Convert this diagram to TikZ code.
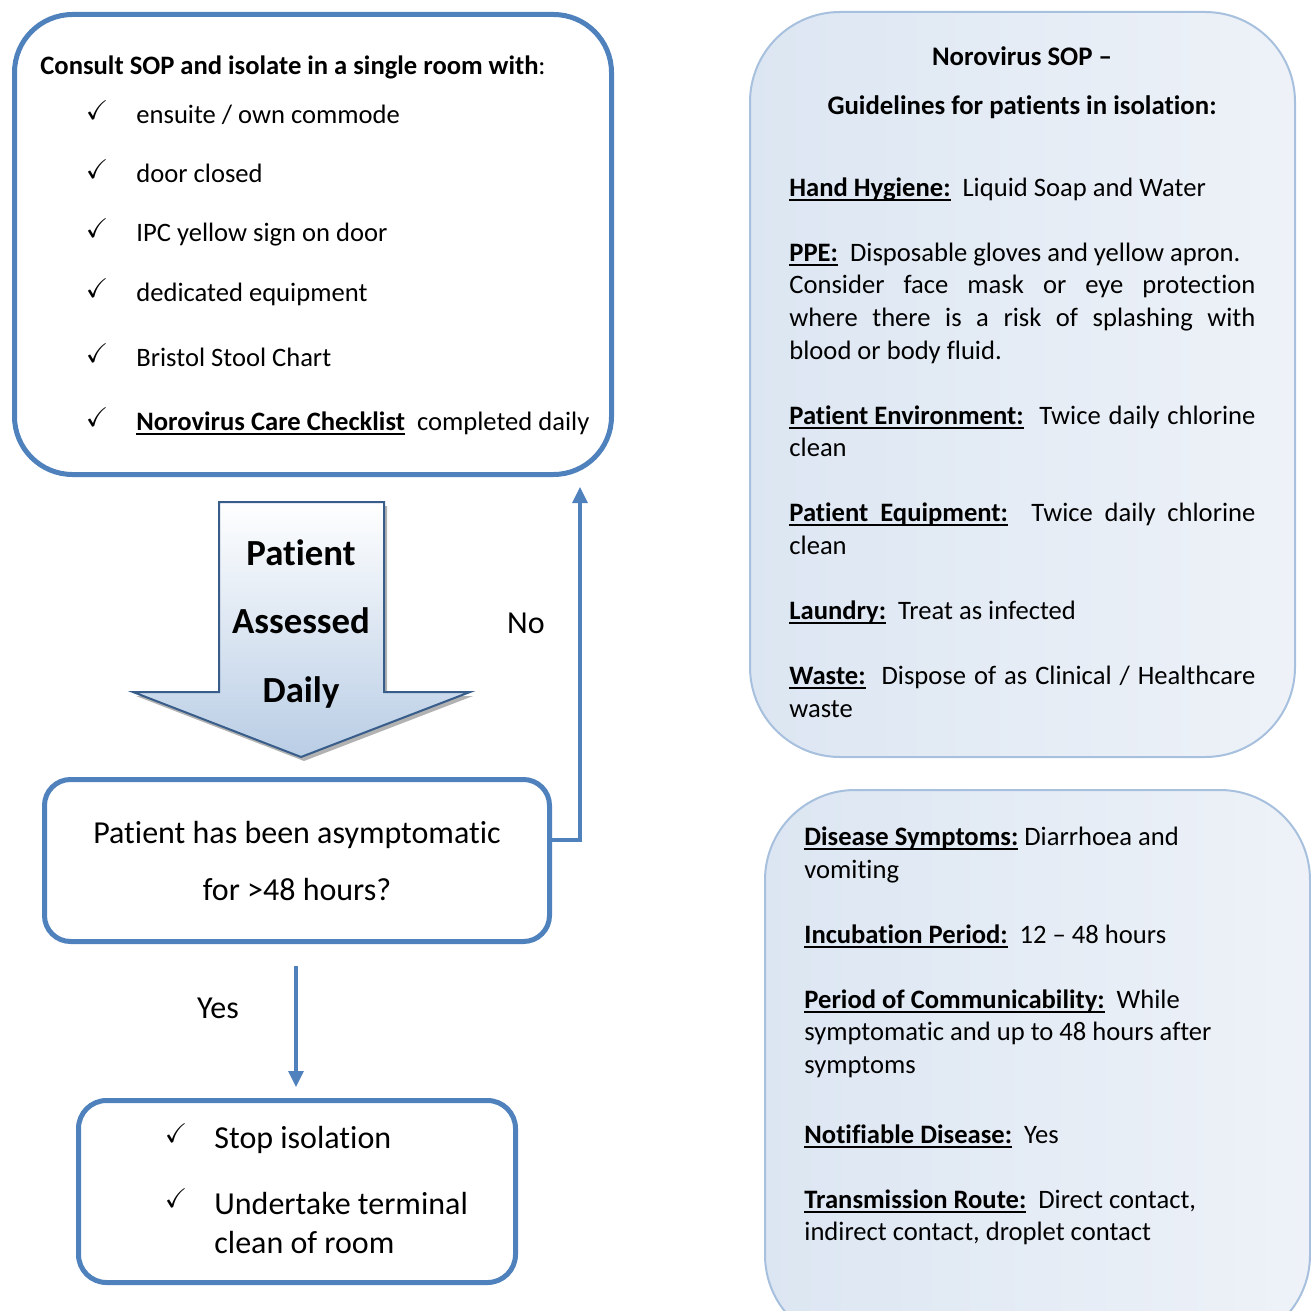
\documentclass[tikz,border=0pt]{standalone}
\usepackage{fontspec}
\setmainfont{Carlito}[Ligatures=NoCommon]
\usepackage{amssymb}
\usetikzlibrary{arrows.meta,fit}
\definecolor{bord}{RGB}{79,129,189}
\definecolor{arrowline}{RGB}{56,93,138}
\definecolor{lightbord}{RGB}{167,192,222}
\definecolor{fillL}{RGB}{220,230,242}
\definecolor{fillR}{RGB}{238,242,248}
\definecolor{arrowbot}{RGB}{185,205,229}
\newcommand{\ulx}[1]{{\setbox0\hbox{\textbf{#1}}\rlap{\rule[-2pt]{\wd0}{0.8pt}}\box0}}
\newcommand{\jl}[1]{\makebox[233pt][s]{#1}}
\tikzset{
  txt/.style={anchor=mid west, inner sep=0pt, yshift=-2pt, font=\fontsize{13.3}{16}\selectfont},
  ctxt/.style={anchor=mid, inner sep=0pt, yshift=-2pt, font=\fontsize{13.4}{16}\selectfont},
  chk/.style={anchor=mid, inner sep=0pt, font=\fontsize{13.5}{16}\selectfont},
  bigtxt/.style={anchor=mid, inner sep=0pt, yshift=-3pt, font=\fontsize{16}{19}\selectfont},
  fintxt/.style={anchor=mid west, inner sep=0pt, yshift=-3pt, font=\fontsize{16}{19}\selectfont},
  arrtxt/.style={anchor=mid, inner sep=0pt, yshift=-4pt, font=\bfseries\fontsize{18.4}{21}\selectfont},
  bluebox/.style={draw=bord, line width=2.5pt, fill=white, inner sep=0pt},
  infobox/.style={draw=lightbord, line width=1pt, left color=fillL, right color=fillR, inner sep=0pt, rounded corners=45pt},
  conn/.style={draw=bord, line width=1.6pt, -{Triangle[width=7.5pt,length=8pt]}},
}
\begin{document}
\begin{tikzpicture}[x=0.5pt,y=-0.5pt]
\path[use as bounding box] (0,0) rectangle (1311,1311);
\clip (0,0) rectangle (1311,1311);

% ---------- right info boxes ----------
\node[infobox, fit={(750,12) (1295,757)}] (sopbox) {};
\node[infobox, fit={(765,790) (1310,1345)}] (disbox) {};

% ---------- left flow boxes ----------
\node[bluebox, rounded corners=29pt, fit={(14.5,14.5) (611.5,474.5)}] (isolate) {};
\node[bluebox, rounded corners=13pt, fit={(44.5,779.5) (549.5,941.5)}] (decision) {};
\node[bluebox, rounded corners=14pt, fit={(78.5,1100.5) (515.5,1282.5)}] (stop) {};

% ---------- big block arrow ----------
\fill[gray!60, shift={(3,4)}] (219,502) -- (384,502) -- (384,692) -- (470,692) -- (301,757) -- (133,692) -- (219,692) -- cycle;
\path[draw=arrowline, line width=1pt, top color=white, bottom color=arrowbot]
  (219,502) -- (384,502) -- (384,692) -- (470,692) -- (301,757) -- (133,692) -- (219,692) -- cycle;
\node[arrtxt] (pa1) at (301,553) {Patient};
\node[arrtxt] (pa2) at (301,621) {Assessed};
\node[arrtxt] (pa3) at (301,690) {Daily};

% ---------- connectors ----------
\coordinate (nocorner) at (580,840);
\coordinate (notip) at (580,487);
\draw[conn] (decision.east |- nocorner) -- (nocorner) -- (notip);
\node[bigtxt] (nolbl) at (526,623) {No};
\coordinate (yesstart) at (296,966);
\coordinate (yestip) at (296,1087);
\draw[conn] (yesstart) -- (yestip);
\node[bigtxt] (yeslbl) at (218,1008) {Yes};

% ---------- isolate box text ----------
\node[txt] (h0) at (40,66) {\textbf{Consult SOP and isolate in a single room with}:};
\foreach \yy/\tt [count=\i] in {115/{ensuite / own commode},174/{door closed},233/{IPC yellow sign on door},293/{dedicated equipment},358/{Bristol Stool Chart},422/{\ulx{Norovirus Care Checklist}\ \ completed daily}}{
  \node[chk] (c\i) at (97,\yy) {$\checkmark$};
  \node[txt] (l\i) at (136,\yy) {\tt};
}

% ---------- decision text ----------
\node[bigtxt] (d1) at (297,833) {Patient has been asymptomatic};
\node[bigtxt] (d2) at (297,890) {for >48 hours?};

% ---------- stop box text ----------
\node[chk] (s1c) at (176,1138) {$\checkmark$};
\node[fintxt] (s1) at (214,1138) {Stop isolation};
\node[chk] (s2c) at (176,1203) {$\checkmark$};
\node[fintxt] (s2) at (214,1204) {Undertake terminal};
\node[fintxt] (s3) at (214,1243) {clean of room};

% ---------- SOP guidelines text ----------
\node[ctxt] (g1) at (1022,57) {\textbf{Norovirus SOP –}};
\node[ctxt] (g2) at (1022,106) {\textbf{Guidelines for patients in isolation:}};
\node[txt] (g3) at (789,188) {\ulx{Hand Hygiene:}\ \ Liquid Soap and Water};
\node[txt] (g4) at (789,253) {\ulx{PPE:}\ \ Disposable gloves and yellow apron.};
\node[txt] (g5) at (789,285) {\jl{Consider face mask or eye protection}};
\node[txt] (g6) at (789,318) {\jl{where there is a risk of splashing with}};
\node[txt] (g7) at (789,351) {blood or body fluid.};
\node[txt] (g8) at (789,416) {\jl{\ulx{Patient Environment:}\ \ Twice daily chlorine}};
\node[txt] (g9) at (789,448) {clean};
\node[txt] (g10) at (789,513) {\jl{\ulx{Patient\ \ Equipment:}\ \ Twice daily chlorine}};
\node[txt] (g11) at (789,546) {clean};
\node[txt] (g12) at (789,611) {\ulx{Laundry:}\ \ Treat as infected};
\node[txt] (g13) at (789,676) {\jl{\ulx{Waste:}\ \ Dispose of as Clinical / Healthcare}};
\node[txt] (g14) at (789,709) {waste};

% ---------- disease text ----------
\node[txt] (e1) at (804,837) {\ulx{Disease Symptoms:} Diarrhoea and};
\node[txt] (e2) at (804,870) {vomiting};
\node[txt] (e3) at (804,935) {\ulx{Incubation Period:}\ \ 12 – 48 hours};
\node[txt] (e4) at (804,1000) {\ulx{Period of Communicability:}\ \ While};
\node[txt] (e5) at (804,1032) {symptomatic and up to 48 hours after};
\node[txt] (e6) at (804,1065) {symptoms};
\node[txt] (e7) at (804,1135) {\ulx{Notifiable Disease:}\ \ Yes};
\node[txt] (e8) at (804,1200) {\ulx{Transmission Route:}\ \ Direct contact,};
\node[txt] (e9) at (804,1232) {indirect contact, droplet contact};
\end{tikzpicture}
\end{document}
